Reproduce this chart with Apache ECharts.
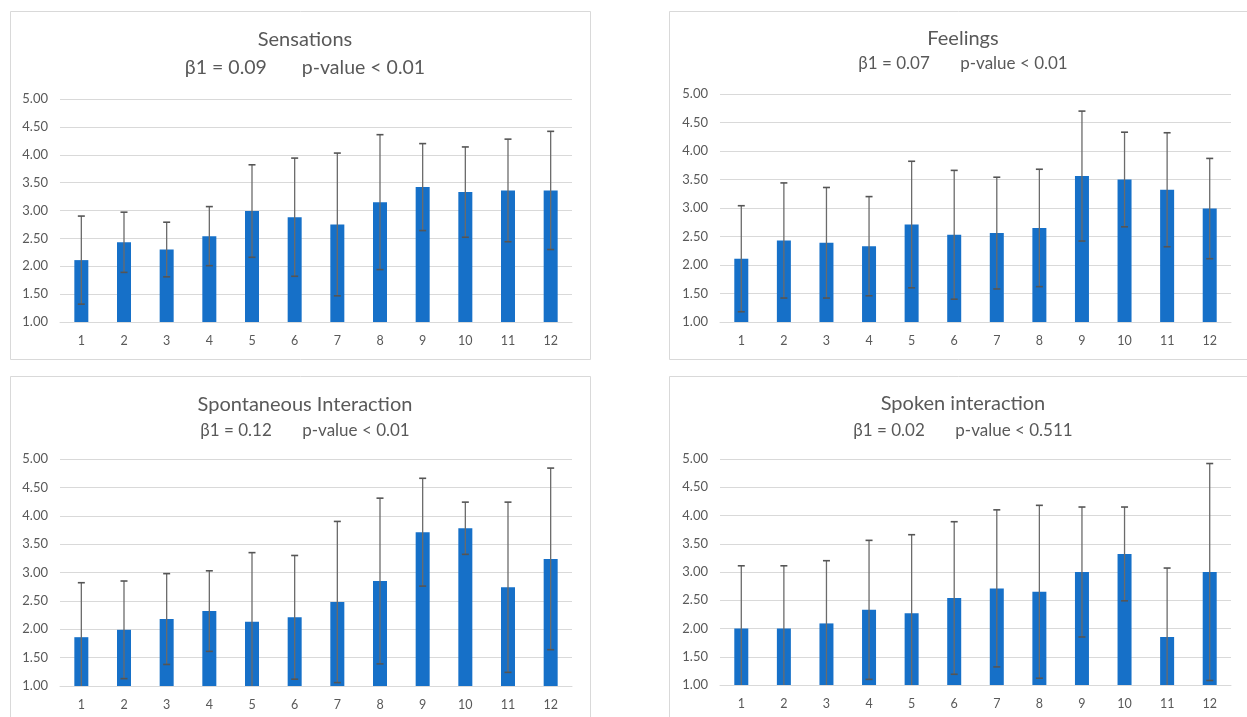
<!DOCTYPE html>
<html>
<head>
<meta charset="utf-8">
<script src="https://cdn.jsdelivr.net/npm/echarts@6/dist/echarts.min.js"></script>
<style>
html,body{margin:0;padding:0;background:#fff;}
#c{width:1247px;height:717px;}
</style>
</head>
<body>
<div id="c"></div>
<script>
const categories = ['1','2','3','4','5','6','7','8','9','10','11','12'];

const sensationsMean = [2.11,2.43,2.30,2.54,2.99,2.88,2.75,3.15,3.42,3.33,3.36,3.36];
const sensationsSD   = [0.79,0.54,0.49,0.53,0.83,1.06,1.28,1.21,0.78,0.81,0.92,1.06];

const feelingsMean = [2.11,2.43,2.39,2.33,2.71,2.53,2.56,2.65,3.56,3.50,3.32,2.99];
const feelingsSD   = [0.93,1.01,0.97,0.87,1.11,1.13,0.98,1.03,1.14,0.83,1.00,0.88];

const spontaneousMean = [1.86,1.99,2.18,2.32,2.13,2.21,2.48,2.85,3.71,3.78,2.74,3.24];
const spontaneousSD   = [0.96,0.86,0.80,0.71,1.22,1.09,1.42,1.46,0.95,0.46,1.50,1.60];

const spokenMean = [2.00,2.00,2.09,2.33,2.27,2.54,2.71,2.65,3.00,3.32,1.85,3.00];
const spokenSD   = [1.11,1.11,1.11,1.23,1.39,1.35,1.39,1.53,1.15,0.83,1.22,1.92];

const panelTitles = ['Sensations','Feelings','Spontaneous Interaction','Spoken interaction'];
const panelSubtitles = [
  'β1 = 0.09       p-value < 0.01',
  'β1 = 0.07       p-value < 0.01',
  'β1 = 0.12       p-value < 0.01',
  'β1 = 0.02       p-value < 0.511'
];
const yMin = 1, yMax = 5, yStep = 0.5;

const panels = [
  {mean: sensationsMean, sd: sensationsSD},
  {mean: feelingsMean, sd: feelingsSD},
  {mean: spontaneousMean, sd: spontaneousSD},
  {mean: spokenMean, sd: spokenSD}
];

// layout (pixels)
const frames = [
  {x:10, y:11, w:580, h:348},
  {x:669, y:11, w:590, h:348},
  {x:10, y:376, w:580, h:360},
  {x:669, y:376, w:590, h:360}
];
const grids = [
  {left:60, top:99, width:512, height:223},
  {left:720, top:94, width:511, height:228},
  {left:60, top:459, width:512, height:227},
  {left:720, top:459, width:511, height:226}
];
const titleLayout = [
  {cx:300, ty:39, sy:67, tfs:20, sfs:19.5},
  {cx:958, ty:38, sy:63, tfs:20, sfs:17},
  {cx:300, ty:404, sy:430, tfs:20, sfs:17},
  {cx:958, ty:403, sy:430, tfs:20, sfs:17}
];

const FONT = 'Lato, "Open Sans", sans-serif';
const TXT = '#595959';
const BAR = '#1670c8';

const option = {
  backgroundColor: '#fff',
  animation: false,
  textStyle: {fontFamily: FONT},
  graphic: frames.map(f => ({
    type: 'rect', z: -10, silent: true,
    shape: {x: f.x + 0.5, y: f.y + 0.5, width: f.w, height: f.h},
    style: {fill: '#fff', stroke: '#d9d9d9', lineWidth: 1}
  })),
  title: [],
  grid: grids.map(g => Object.assign({containLabel: false}, g)),
  xAxis: [],
  yAxis: [],
  series: []
};

panels.forEach((p, i) => {
  const tl = titleLayout[i];
  option.title.push({
    text: panelTitles[i], left: tl.cx, top: tl.ty - tl.tfs * 0.6 - 4, textAlign: 'center',
    textStyle: {fontFamily: FONT, fontSize: tl.tfs, fontWeight: 'normal', color: TXT, lineHeight: tl.tfs * 1.2}
  });
  option.title.push({
    text: panelSubtitles[i], left: tl.cx, top: tl.sy - tl.sfs * 0.6 - 4, textAlign: 'center',
    textStyle: {fontFamily: FONT, fontSize: tl.sfs, fontWeight: 'normal', color: TXT, lineHeight: tl.sfs * 1.2}
  });
  option.xAxis.push({
    type: 'category', gridIndex: i, data: categories,
    axisLine: {show: true, lineStyle: {color: '#d9d9d9'}},
    axisTick: {show: false},
    axisLabel: {color: TXT, fontSize: 12.5, margin: 12, fontFamily: FONT},
    splitLine: {show: false}
  });
  option.yAxis.push({
    type: 'value', gridIndex: i, min: yMin, max: yMax, interval: yStep,
    axisLine: {show: false}, axisTick: {show: false},
    axisLabel: {color: TXT, fontSize: 13, margin: 12, fontFamily: FONT,
      formatter: v => v.toFixed(2)},
    splitLine: {lineStyle: {color: '#d9d9d9', width: 1}}
  });
  option.series.push({
    type: 'bar', xAxisIndex: i, yAxisIndex: i,
    data: p.mean, barWidth: 14,
    itemStyle: {color: BAR}
  });
  option.series.push({
    type: 'custom', xAxisIndex: i, yAxisIndex: i, z: 3,
    data: p.mean.map((m, k) => [k, m - p.sd[k], m + p.sd[k]]),
    renderItem: function (params, api) {
      const x = api.value(0);
      const lo = api.coord([x, api.value(1)]);
      const hi = api.coord([x, api.value(2)]);
      const cs = params.coordSys;
      const bottom = cs.y + cs.height;
      const cap = 3.5;
      const children = [];
      const yLo = Math.min(lo[1], bottom);
      children.push({type: 'line', shape: {x1: hi[0], y1: hi[1], x2: hi[0], y2: yLo},
        style: {stroke: '#6b6b6b', lineWidth: 1.3}});
      children.push({type: 'line', shape: {x1: hi[0] - cap, y1: hi[1], x2: hi[0] + cap, y2: hi[1]},
        style: {stroke: '#555', lineWidth: 1.6}});
      if (lo[1] <= bottom) {
        children.push({type: 'line', shape: {x1: lo[0] - cap, y1: lo[1], x2: lo[0] + cap, y2: lo[1]},
          style: {stroke: '#555', lineWidth: 1.6}});
      }
      return {type: 'group', children: children};
    }
  });
});

const chart = echarts.init(document.getElementById('c'), null, {renderer: 'canvas'});
chart.setOption(option);
</script>
</body>
</html>
